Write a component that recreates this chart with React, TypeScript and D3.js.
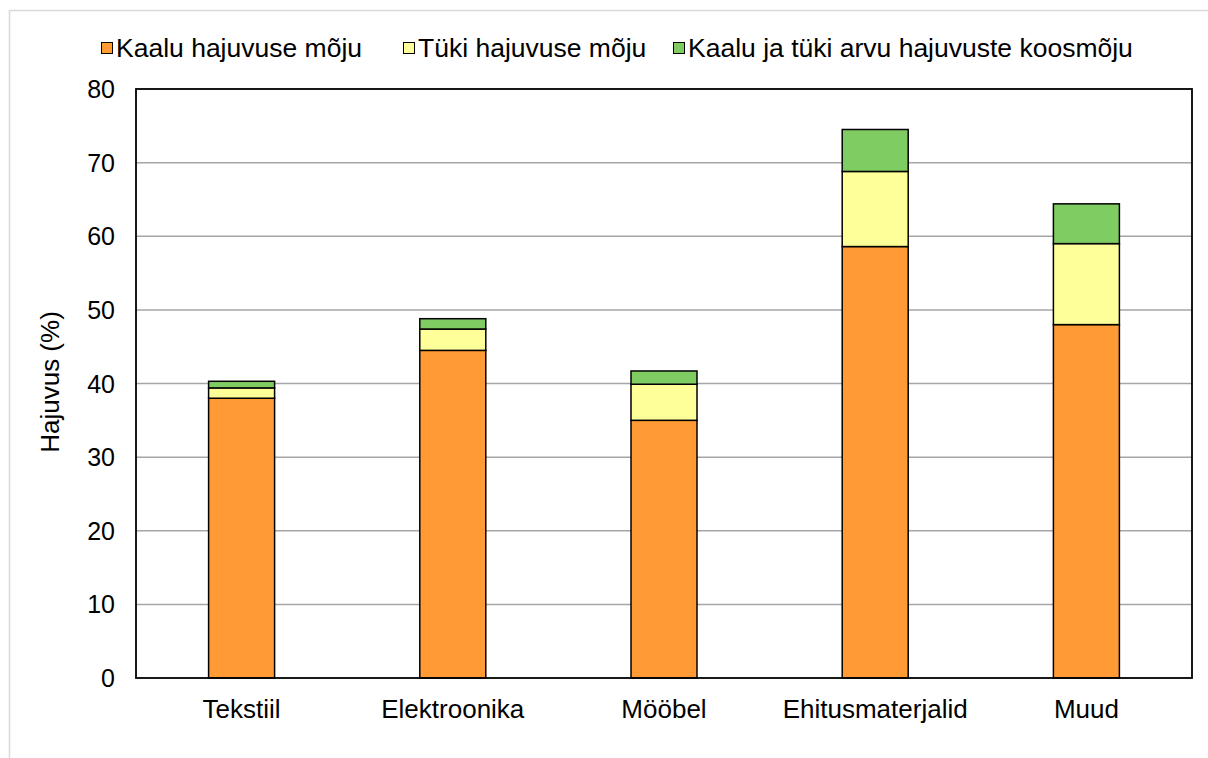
import React from "react";
import * as d3 from "d3";

const categories = ["Tekstiil", "Elektroonika", "Mööbel", "Ehitusmaterjalid", "Muud"];
const kaaluMoju = [38.0, 44.5, 35.0, 58.6, 48.0];
const tukiMoju = [1.4, 2.9, 4.9, 10.2, 11.0];
const koosMoju = [0.9, 1.4, 1.8, 5.7, 5.4];
const seriesNames = ["Kaalu hajuvuse mõju", "Tüki hajuvuse mõju", "Kaalu ja tüki arvu hajuvuste koosmõju"];
const seriesColors = ["#ff9a35", "#ffff99", "#7fcc63"];
const yTicks = [0, 10, 20, 30, 40, 50, 60, 70, 80];

export default function App() {
  const W = 1208, H = 758;
  const left = 136, right = 1192, top = 89, bottom = 678;
  const x = d3.scaleBand<string>().domain(categories).range([left, right]).paddingInner(0).paddingOuter(0);
  const y = d3.scaleLinear().domain([0, 80]).range([bottom, top]);
  const barW = x.bandwidth() * 0.3125;
  const rows = categories.map((c, i) => ({ cat: c, a: kaaluMoju[i], b: tukiMoju[i], c2: koosMoju[i] }));
  const stack = d3.stack<any>().keys(["a", "b", "c2"])(rows);
  const font = "'Liberation Sans', Arial, sans-serif";
  const legendX = [101, 403, 673];
  return (
    <svg width={W} height={H} style={{ position: "absolute", left: 0, top: 0 }} fontFamily={font}>
      <rect x={0} y={0} width={W} height={H} fill="#fff" />
      <rect x={9.5} y={10.5} width={1210} height={770} fill="none" stroke="#d9d9d9" strokeWidth={1.5} />
      {yTicks.map((t) => (
        <g key={t}>
          {t > 0 && t < 80 && (
            <line x1={left} x2={right} y1={y(t)} y2={y(t)} stroke="#a6a6a6" strokeWidth={1.5} />
          )}
          <text x={115} y={y(t) + 9} textAnchor="end" fontSize={25} fill="#000">{t}</text>
        </g>
      ))}
      {stack.map((s, si) =>
        s.map((d, i) => (
          <rect
            key={si + "-" + i}
            x={(x(categories[i]) as number) + x.bandwidth() / 2 - barW / 2}
            y={y(d[1])}
            width={barW}
            height={y(d[0]) - y(d[1])}
            fill={seriesColors[si]}
            stroke="#000"
            strokeWidth={1.5}
          />
        ))
      )}
      <rect x={left} y={top} width={right - left} height={bottom - top} fill="none" stroke="#000" strokeWidth={1.8} />
      {categories.map((c) => (
        <text key={c} x={(x(c) as number) + x.bandwidth() / 2} y={718} textAnchor="middle" fontSize={26} fill="#000">{c}</text>
      ))}
      <text transform={`translate(59,382) rotate(-90)`} textAnchor="middle" fontSize={26} fill="#000">Hajuvus (%)</text>
      {seriesNames.map((n, i) => (
        <g key={n}>
          <rect x={legendX[i] + 0.5} y={42.5} width={11} height={11} fill={seriesColors[i]} stroke="#000" strokeWidth={1} />
          <text x={legendX[i] + 15} y={57} fontSize={26.5} fill="#000">{n}</text>
        </g>
      ))}
    </svg>
  );
}
